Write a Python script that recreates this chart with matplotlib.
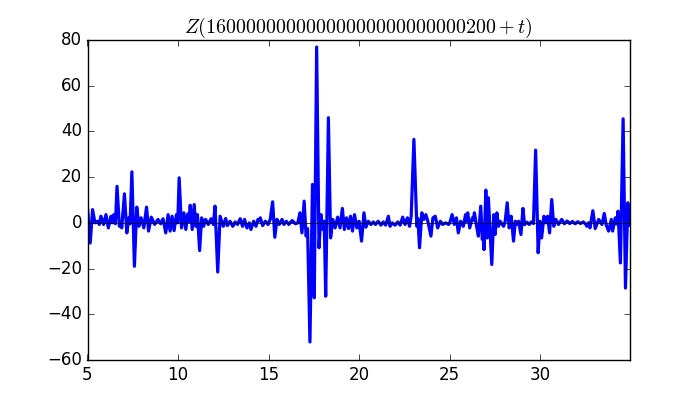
import matplotlib
matplotlib.use('Agg')
import matplotlib.pyplot as plt
import numpy as np

# values (t, Z) at the turning points
t_vals = [
    5.00, 5.15, 5.28, 5.41, 5.56, 5.65, 5.74, 5.89, 6.02, 6.15, 6.30, 6.37,
    6.45, 6.54, 6.63, 6.76, 6.82, 6.89, 7.04, 7.17, 7.28, 7.35, 7.45, 7.59,
    7.72, 7.84, 7.96, 8.11, 8.26, 8.37, 8.52, 8.71, 8.89, 9.04, 9.17, 9.32,
    9.45, 9.56, 9.67, 9.78, 9.91, 9.98, 10.06, 10.19, 10.32, 10.43, 10.53,
    10.60, 10.67, 10.78, 10.89, 10.98, 11.07, 11.19, 11.30, 11.41, 11.52,
    11.67, 11.82, 11.95, 12.04, 12.19, 12.32,
    12.50, 12.63, 12.72, 12.87, 13.02, 13.15, 13.28, 13.43, 13.56, 13.67,
    13.80, 13.93, 14.02, 14.17, 14.30, 14.41, 14.47, 14.54, 14.67, 14.82,
    14.97, 15.09, 15.22, 15.34, 15.46, 15.59, 15.74, 15.84, 15.98, 16.11,
    16.30, 16.48, 16.61, 16.73, 16.84, 16.96, 17.07, 17.15,
    17.28, 17.42, 17.52, 17.65, 17.78, 17.89, 18.00, 18.07, 18.15, 18.30,
    18.42, 18.54, 18.67, 18.81, 18.94, 19.07, 19.18, 19.30, 19.41, 19.52,
    19.63, 19.74, 19.87, 19.99,
    20.13, 20.26, 20.37, 20.50, 20.65, 20.78, 20.90, 21.05, 21.20, 21.33,
    21.46, 21.61, 21.70, 21.83, 21.98, 22.13, 22.26, 22.40, 22.53, 22.66,
    22.78, 22.87, 23.02, 23.18, 23.24, 23.33, 23.46, 23.57, 23.68, 23.79,
    23.96, 24.07, 24.20, 24.33, 24.48, 24.61, 24.76, 24.94,
    25.00, 25.13, 25.25, 25.37, 25.47, 25.60, 25.75, 25.87, 25.93, 25.99,
    26.10, 26.25, 26.30, 26.36, 26.47, 26.58, 26.71, 26.80, 26.84, 26.89,
    26.99, 27.07, 27.13, 27.22, 27.32, 27.43, 27.50, 27.60, 27.69, 27.78,
    27.97, 28.06, 28.17, 28.28, 28.39, 28.52, 28.62, 28.71, 28.80, 28.93,
    29.04, 29.13, 29.26, 29.39, 29.50, 29.62, 29.74, 29.88,
    29.98, 30.07, 30.20, 30.31, 30.40, 30.51, 30.63, 30.74, 30.85, 31.00,
    31.18, 31.33, 31.48, 31.62, 31.77, 31.92, 32.07, 32.22, 32.37, 32.50,
    32.57, 32.66, 32.74, 32.90, 33.03, 33.22, 33.40, 33.53, 33.64, 33.77,
    33.92, 33.99, 34.14, 34.22, 34.29, 34.42, 34.57, 34.70, 34.83, 34.94,
]
z_vals = [
    6.6, -8.8, 5.8, 0.0, 0.7, -0.7, 2.9, -0.7, 3.6, -2.2, 2.9, 0.0,
    3.6, -0.4, 16.0, -1.5, 0.0, -2.2, 12.7, -4.4, 2.2, -0.4, 22.3, -19.0,
    6.9, -1.5, 2.2, -2.2, 6.9, -3.6, 2.5, -0.7, 1.5, -0.4, 1.8, -4.4,
    3.6, -3.6, 2.9, -3.4, 3.6, 0.0, 19.7, -2.2, 4.4, -2.9, 3.9,
    0.5, 7.7, -2.9, 8.0, -1.5, 3.6, -12.1, 2.2, -1.5, 1.5,
    -0.7, 1.8, -0.7, 7.3, -21.5, 2.9,
    -1.5, 1.9, -1.2, 0.7, -1.5, 0.4, -0.7, 1.8, -1.5, 1.5,
    -2.2, 0.0, -2.9, 0.7, -1.5, 1.5, 0.8, 2.2, -1.2, 0.7,
    -0.7, 1.5, 9.2, -6.3, 1.5, -0.7, 1.5, -0.7, 0.7, -0.7,
    1.0, -0.4, 0.0, 4.4, -4.4, 9.5, -5.8, -2.5,
    -52.1, 16.8, -32.8, 76.9, -10.9, 3.6, -2.9, 0.7, -32.1, 46.0,
    -6.6, 1.5, -2.2, 2.5, -2.2, 6.3, -2.9, 2.2, -2.5, 2.9,
    -3.6, 3.6, -2.2, 0.7,
    -8.0, 4.4, -1.9, 0.7, -0.7, 0.4, -0.7, 0.7, -1.0, 0.4,
    -1.0, 2.9, -1.5, 0.0, -1.0, 0.4, -1.0, 2.5, -0.7, 2.2,
    -1.5, 2.9, 36.5, -1.5, 2.0, -10.9, 4.4, 1.5, 3.6, 0.7,
    -5.8, 2.2, 2.9, -2.2, 0.7, -0.7, 0.0, -0.7,
    0.0, 3.6, -0.7, 2.2, -4.4, 0.7, -1.5, 3.6, 0.7, 4.4,
    -2.2, 2.2, 1.2, 4.4, -1.0, -5.8, 7.3, -7.3, -2.0, -11.7,
    14.3, -6.6, 11.0, -3.0, -18.2, 3.6, -5.1, 4.4, -1.5, 0.7,
    -1.5, 0.7, 8.8, -2.2, 2.9, -8.0, 0.7, -0.7, 0.7, -5.1,
    6.3, -0.8, 0.3, -0.7, 0.4, -0.3, 31.8, -13.1,
    0.7, -6.6, 2.9, 0.0, 2.9, -4.4, 10.2, -1.5, 1.5, -0.7,
    1.5, -0.4, 0.8, -0.3, 0.6, -0.4, 0.5, -0.3, 0.4, -0.5,
    -1.5, 0.0, -2.2, 5.3, -2.5, 1.5, -0.7, 4.1, -1.0, -3.6,
    1.5, -3.6, 2.2, -0.5, 5.1, -17.5, 45.5, -28.5, 8.8, -1.0,
]

title = r'$Z(16000000000000000000000000200 + t)$'

plt.style.use('classic')
fig = plt.figure(figsize=(7, 4), dpi=100)
ax = fig.add_subplot(111)

ax.plot(t_vals, z_vals, 'b-', linewidth=2.3, solid_joinstyle='round')
ax.axhline(0, color='k', linewidth=0.5)

ax.set_xlim(5, 34.95)
ax.set_ylim(-60, 80)
ax.set_xticks([5, 10, 15, 20, 25, 30])
ax.set_yticks(np.arange(-60, 81, 20))
plt.title(title)

plt.savefig('out.png', dpi=100)
